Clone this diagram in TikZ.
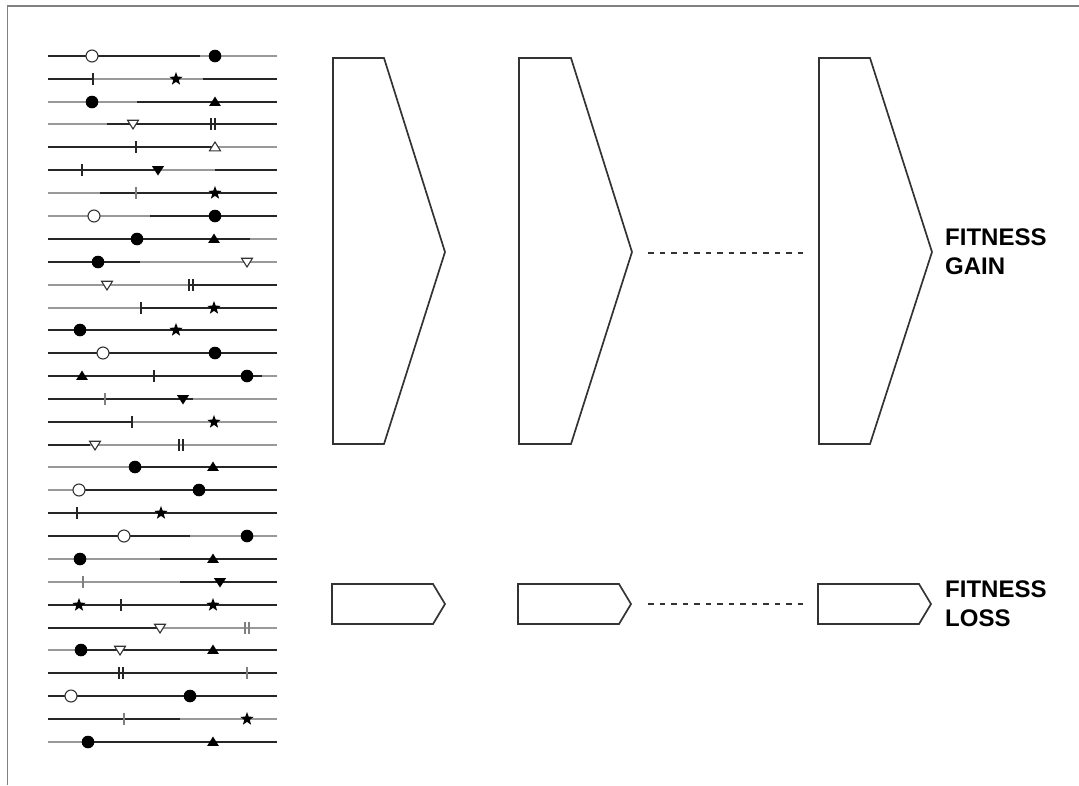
\documentclass[tikz,border=0pt]{standalone}
\usepackage{fontspec}
\setmainfont{Liberation Sans}
\begin{document}
\begin{tikzpicture}[x=1pt,y=-1pt,
  bl/.style={line width=1.9pt, black!85},
  gl/.style={line width=1.9pt, black!40},
  frame/.style={line width=1.8pt, black!50},
  chev/.style={line width=1.7pt, black!80, line join=miter},
  dashline/.style={line width=1.6pt, black!80, dash pattern=on 5.5pt off 6pt},
  lbl/.style={font=\bfseries\fontsize{24}{29}\selectfont, align=left, anchor=north west, inner sep=0pt},
  pics/fcirc/.style={code={\fill[black] (0,0) circle (6.3);}},
  pics/ocirc/.style={code={\draw[black!80, fill=white, line width=1.1pt] (0,0) circle (6);}},
  pics/ftri/.style={code={\fill[black] (-5.8,3.8) -- (5.8,3.8) -- (0,-5.5) -- cycle;}},
  pics/outri/.style={code={\draw[black!80, fill=white, line width=1.1pt] (-5.5,3.8) -- (5.5,3.8) -- (0,-5) -- cycle;}},
  pics/fdtri/.style={code={\fill[black] (-6,-3.8) -- (6,-3.8) -- (0,5.5) -- cycle;}},
  pics/odtri/.style={code={\draw[black!80, fill=white, line width=1.1pt] (-5.5,-3.8) -- (5.5,-3.8) -- (0,5) -- cycle;}},
  pics/mstar/.style={code={\fill[black] (-90:7) -- (-54:2.9) -- (-18:7) -- (18:2.9) -- (54:7) -- (90:2.9) -- (126:7) -- (162:2.9) -- (198:7) -- (234:2.9) -- cycle;}},
  pics/mtick/.style={code={\draw[black!85, line width=1.5pt] (0,-6) -- (0,6);}},
  pics/gtick/.style={code={\draw[black!50, line width=1.5pt] (0,-6) -- (0,6);}},
  pics/dtick/.style={code={\draw[black!85, line width=1.5pt] (-2,-6) -- (-2,6) (2,-6) -- (2,6);}},
  pics/gdtick/.style={code={\draw[black!50, line width=1.5pt] (-2,-6) -- (-2,6) (2,-6) -- (2,6);}},
]
\useasboundingbox (0,0) rectangle (1079,785);
% frame
\draw[frame] (7.5,785) -- (7.5,6) -- (1079,6);

% chromosome rows
% 1
\draw[bl] (48,56) -- (200,56); \draw[gl] (200,56) -- (277,56);
\pic at (92,56) {ocirc}; \pic at (215,56) {fcirc};
% 2
\draw[bl] (48,79) -- (93,79); \draw[gl] (93,79) -- (203,79); \draw[bl] (203,79) -- (277,79);
\pic at (93,79) {mtick}; \pic at (176,79) {mstar};
% 3
\draw[gl] (48,102) -- (137,102); \draw[bl] (137,102) -- (277,102);
\pic at (92,102) {fcirc}; \pic at (215,102) {ftri};
% 4
\draw[gl] (48,124) -- (107,124); \draw[bl] (107,124) -- (277,124);
\pic at (133,124) {odtri}; \pic at (213,124) {dtick};
% 5
\draw[bl] (48,147) -- (215,147); \draw[gl] (215,147) -- (277,147);
\pic at (136,147) {mtick}; \pic at (215,147) {outri};
% 6
\draw[bl] (48,170) -- (160,170); \draw[gl] (160,170) -- (215,170); \draw[bl] (215,170) -- (277,170);
\pic at (82,170) {mtick}; \pic at (158,170) {fdtri};
% 7
\draw[gl] (48,193) -- (100,193); \draw[bl] (100,193) -- (277,193);
\pic at (136,193) {gtick}; \pic at (215,193) {mstar};
% 8
\draw[gl] (48,216) -- (150,216); \draw[bl] (150,216) -- (277,216);
\pic at (94,216) {ocirc}; \pic at (215,216) {fcirc};
% 9
\draw[bl] (48,239) -- (250,239); \draw[gl] (250,239) -- (277,239);
\pic at (137,239) {fcirc}; \pic at (214,239) {ftri};
% 10
\draw[bl] (48,262) -- (140,262); \draw[gl] (140,262) -- (277,262);
\pic at (98,262) {fcirc}; \pic at (247,262) {odtri};
% 11
\draw[gl] (48,285) -- (190,285); \draw[bl] (190,285) -- (277,285);
\pic at (107,285) {odtri}; \pic at (191,285) {dtick};
% 12
\draw[gl] (48,308) -- (140,308); \draw[bl] (140,308) -- (277,308);
\pic at (141,308) {mtick}; \pic at (214,308) {mstar};
% 13
\draw[bl] (48,330) -- (277,330);
\pic at (80,330) {fcirc}; \pic at (176,330) {mstar};
% 14
\draw[bl] (48,353) -- (277,353);
\pic at (103,353) {ocirc}; \pic at (215,353) {fcirc};
% 15
\draw[bl] (48,376) -- (262,376); \draw[gl] (262,376) -- (277,376);
\pic at (82,376) {ftri}; \pic at (154,376) {mtick}; \pic at (247,376) {fcirc};
% 16
\draw[bl] (48,399) -- (193,399); \draw[gl] (193,399) -- (277,399);
\pic at (105,399) {gtick}; \pic at (183,399) {fdtri};
% 17
\draw[bl] (48,422) -- (132,422); \draw[gl] (132,422) -- (277,422);
\pic at (132,422) {mtick}; \pic at (214,422) {mstar};
% 18
\draw[bl] (48,445) -- (90,445); \draw[gl] (90,445) -- (277,445);
\pic at (95,445) {odtri}; \pic at (181,445) {dtick};
% 19
\draw[gl] (48,467) -- (135,467); \draw[bl] (135,467) -- (277,467);
\pic at (135,467) {fcirc}; \pic at (213,467) {ftri};
% 20
\draw[gl] (48,490) -- (80,490); \draw[bl] (80,490) -- (277,490);
\pic at (79,490) {ocirc}; \pic at (199,490) {fcirc};
% 21
\draw[bl] (48,513) -- (277,513);
\pic at (77,513) {mtick}; \pic at (161,513) {mstar};
% 22
\draw[bl] (48,536) -- (190,536); \draw[gl] (190,536) -- (277,536);
\pic at (124,536) {ocirc}; \pic at (247,536) {fcirc};
% 23
\draw[gl] (48,559) -- (160,559); \draw[bl] (160,559) -- (277,559);
\pic at (80,559) {fcirc}; \pic at (213,559) {ftri};
% 24
\draw[gl] (48,582) -- (180,582); \draw[bl] (180,582) -- (277,582);
\pic at (83,582) {gtick}; \pic at (220,582) {fdtri};
% 25
\draw[bl, line width=2.4pt] (48,605) -- (277,605);
\pic at (79,605) {mstar}; \pic at (121,605) {mtick}; \pic at (213,605) {mstar};
% 26
\draw[bl] (48,628) -- (160,628); \draw[gl] (160,628) -- (277,628);
\pic at (160,628) {odtri}; \pic at (247,628) {gdtick};
% 27
\draw[gl] (48,650) -- (80,650); \draw[bl] (80,650) -- (277,650);
\pic at (81,650) {fcirc}; \pic at (120,650) {odtri}; \pic at (213,650) {ftri};
% 28
\draw[bl] (48,673) -- (277,673);
\pic at (121,673) {dtick}; \pic at (247,673) {gtick};
% 29
\draw[bl] (48,696) -- (277,696);
\pic at (71,696) {ocirc}; \pic at (190,696) {fcirc};
% 30
\draw[bl] (48,719) -- (180,719); \draw[gl] (180,719) -- (277,719);
\pic at (124,719) {gtick}; \pic at (247,719) {mstar};
% 31
\draw[gl] (48,742) -- (90,742); \draw[bl] (90,742) -- (277,742);
\pic at (88,742) {fcirc}; \pic at (213,742) {ftri};

% fitness gain chevrons
\draw[chev] (333,58) -- (384,58) -- (445,252) -- (384,444) -- (333,444) -- cycle;
\draw[chev] (519,58) -- (571,58) -- (632,252) -- (571,444) -- (519,444) -- cycle;
\draw[chev] (819,58) -- (870,58) -- (932,252) -- (870,444) -- (819,444) -- cycle;
\coordinate (ga) at (648,253);
\coordinate (gb) at (807,253);
\draw[dashline] (ga) -- (gb);
\node[lbl] (gaintxt) at (945,228.5) {FITNESS\\GAIN};

% fitness loss chevrons
\draw[chev] (332,584) -- (433,584) -- (445,604) -- (433,624) -- (332,624) -- cycle;
\draw[chev] (518,584) -- (619,584) -- (631,604) -- (619,624) -- (518,624) -- cycle;
\draw[chev] (818,584) -- (919,584) -- (931,604) -- (919,624) -- (818,624) -- cycle;
\coordinate (la) at (648,604);
\coordinate (lb) at (807,604);
\draw[dashline] (la) -- (lb);
\node[lbl] (losstxt) at (945,580.5) {FITNESS\\LOSS};
\end{tikzpicture}
\end{document}
